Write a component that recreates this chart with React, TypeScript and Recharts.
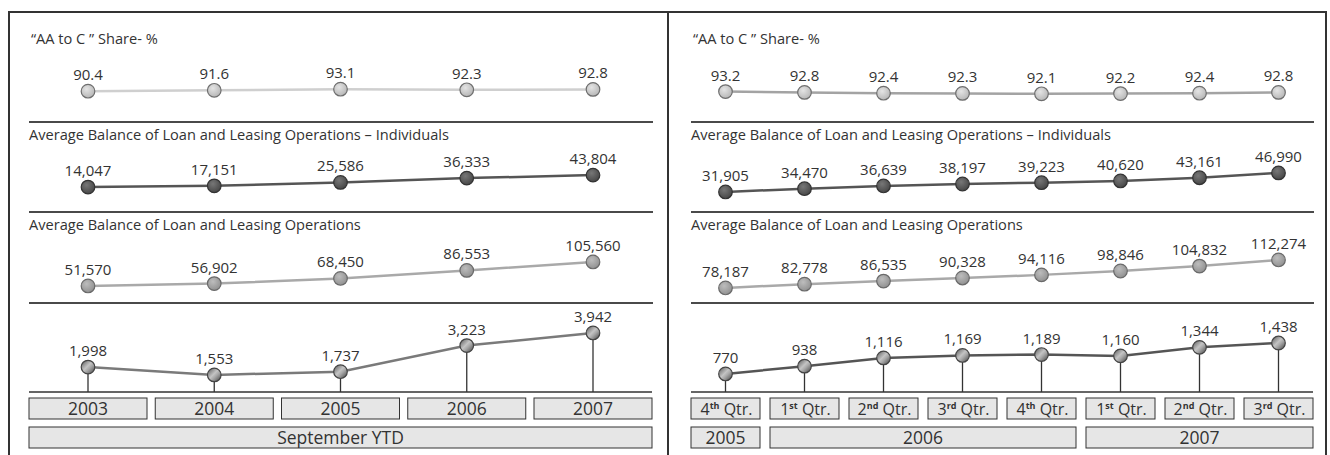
import React from "react";
import { LineChart, Line, XAxis, YAxis, LabelList } from "recharts";

const years = ["2003", "2004", "2005", "2006", "2007"];
const yearGroups = ["September YTD", "September YTD", "September YTD", "September YTD", "September YTD"];
const shareYtd = [90.4, 91.6, 93.1, 92.3, 92.8];
const individualsYtd = [14047, 17151, 25586, 36333, 43804];
const totalYtd = [51570, 56902, 68450, 86553, 105560];
const resultYtd = [1998, 1553, 1737, 3223, 3942];

const quarters = ["4th Qtr.", "1st Qtr.", "2nd Qtr.", "3rd Qtr.", "4th Qtr.", "1st Qtr.", "2nd Qtr.", "3rd Qtr."];
const quarterGroups = ["2005", "2006", "2006", "2006", "2006", "2007", "2007", "2007"];
const shareQtr = [93.2, 92.8, 92.4, 92.3, 92.1, 92.2, 92.4, 92.8];
const individualsQtr = [31905, 34470, 36639, 38197, 39223, 40620, 43161, 46990];
const totalQtr = [78187, 82778, 86535, 90328, 94116, 98846, 104832, 112274];
const resultQtr = [770, 938, 1116, 1169, 1189, 1160, 1344, 1438];

const titles = [
  "\u201CAA to C \u201D Share- %",
  "Average Balance of Loan and Leasing Operations \u2013 Individuals",
  "Average Balance of Loan and Leasing Operations",
];

const FONT = "'Open Sans', 'Noto Sans', sans-serif";
const INK = "#333";
const M = 20;

// row layout: chart div top, top margin, plot height, title top, separator top
const rows = [
  { top: 40, mt: 10, plotH: 60, titleTop: 27, sep: 121 },
  { top: 130, mt: 10, plotH: 60, titleTop: 123, sep: 211 },
  { top: 220, mt: 10, plotH: 70, titleTop: 213, sep: 302 },
  { top: 300, mt: 20, plotH: 72, titleTop: 0, sep: 0 },
];

const styles = [
  { fill: "url(#ballLight)", stroke: "#6e6e6e" },
  { fill: "url(#ballDark)", stroke: "#333" },
  { fill: "url(#ballMid)", stroke: "#6a6a6a" },
  { fill: "url(#ballMetal)", stroke: "#444" },
];

const panels = [
  {
    left: 29, width: 623, box: 118, cats: years, groups: yearGroups,
    series: [shareYtd, individualsYtd, totalYtd, resultYtd],
    domains: [[65, 146], [-18000, 131000], [20000, 177500], [580, 4680]],
    lines: ["#cfcfcf", "#555", "#a9a9a9", "#7a7a7a"],
  },
  {
    left: 691, width: 622, box: 69, cats: quarters, groups: quarterGroups,
    series: [shareQtr, individualsQtr, totalQtr, resultQtr],
    domains: [[84, 114], [25500, 73100], [63500, 148800], [380, 1935]],
    lines: ["#a3a3a3", "#555", "#a9a9a9", "#555"],
  },
];

const fmt = (v: number) =>
  v < 100 ? v.toFixed(1) : v.toLocaleString("en-US");

function QuarterText({ x, y, label }: any) {
  const m = /^(\d)(st|nd|rd|th)(.*)$/.exec(label);
  if (!m) {
    return (
      <text x={x} y={y} textAnchor="middle" fontSize={17.5} fill={INK} fontFamily={FONT}>
        {label}
      </text>
    );
  }
  return (
    <text x={x + 1} y={y} textAnchor="middle" fontSize={16} fill={INK} fontFamily={FONT}>
      <tspan>{m[1]}</tspan>
      <tspan dy={-6} fontSize={9} fontWeight="bold">{m[2]}</tspan>
      <tspan dy={6}>{m[3]}</tspan>
    </text>
  );
}

function BoxTick(props: any) {
  const { x, y, payload, panel } = props;
  const i: number = payload?.index ?? props.index;
  const n = panel.cats.length;
  const w = panel.box;
  const step = (panel.width - w) / (n - 1);
  const grp = panel.groups[i];
  const first = i === 0 || panel.groups[i - 1] !== grp;
  let span = 0;
  while (i + span < n && panel.groups[i + span] === grp) span++;
  const gw = (span - 1) * step + w;
  return (
    <g>
      <rect x={x - w / 2} y={y + 6} width={w} height={21} fill="#e6e6e6" stroke={INK} strokeWidth={1} />
      <QuarterText x={x} y={y + 23} label={panel.cats[i]} />
      {first && (
        <g>
          <rect x={x - w / 2} y={y + 35} width={gw} height={21} fill="#e6e6e6" stroke={INK} strokeWidth={1} />
          <text x={x - w / 2 + gw / 2} y={y + 52} textAnchor="middle" fontSize={grp.length > 4 ? 17.5 : 17.5} fill={INK} fontFamily={FONT}>
            {grp}
          </text>
        </g>
      )}
    </g>
  );
}

function RowChart({ panel, r }: any) {
  const row = rows[r];
  const last = r === 3;
  const values: number[] = panel.series[r];
  const data = panel.cats.map((c: string, i: number) => ({ cat: c, v: values[i] }));
  const axisH = last ? 63 : 0;
  const st = styles[r];
  const bottom = row.mt + row.plotH;
  const renderDot = (p: any) => (
    <g key={`dot-${p.index}`}>
      {last && <line x1={p.cx} y1={p.cy} x2={p.cx} y2={bottom} stroke={INK} strokeWidth={1.3} />}
      <circle cx={p.cx} cy={p.cy} r={6.8} fill={st.fill} stroke={st.stroke} strokeWidth={1.2} />
    </g>
  );
  return (
    <div style={{ position: "absolute", left: panel.left - M, top: row.top }}>
      <LineChart
        width={panel.width + 2 * M}
        height={row.mt + row.plotH + axisH}
        data={data}
        margin={{ top: row.mt, right: M, bottom: 0, left: M }}
      >
        <XAxis
          dataKey="cat"
          hide={!last}
          height={axisH}
          interval={0}
          padding={{ left: panel.box / 2, right: panel.box / 2 }}
          tickLine={false}
          tickSize={0}
          tickMargin={0}
          axisLine={{ stroke: INK, strokeWidth: 1.5 }}
          tick={last ? <BoxTick panel={panel} /> : false}
        />
        <YAxis hide domain={panel.domains[r]} allowDataOverflow />
        <Line
          type="linear"
          dataKey="v"
          stroke={panel.lines[r]}
          strokeWidth={2.5}
          dot={renderDot}
          activeDot={false}
          isAnimationActive={false}
        >
          <LabelList
            dataKey="v"
            position="top"
            offset={11}
            formatter={fmt as any}
            fill={INK}
            fontSize={15}
            fontFamily={FONT}
          />
        </Line>
      </LineChart>
    </div>
  );
}

function Panel({ panel }: any) {
  return (
    <>
      {titles.map((t, i) => (
        <div
          key={`t${i}`}
          style={{
            position: "absolute",
            left: panel.left + (i === 0 ? 2 : 0),
            top: rows[i].titleTop,
            fontSize: 14.6,
            color: INK,
            fontFamily: FONT,
            whiteSpace: "nowrap",
            lineHeight: "22px",
          }}
        >
          {t}
        </div>
      ))}
      {rows.slice(0, 3).map((row, i) => (
        <div
          key={`s${i}`}
          style={{
            position: "absolute",
            left: panel.left,
            top: row.sep,
            width: panel.width + 1,
            height: 2,
            background: "#4a4a4a",
          }}
        />
      ))}
      {[0, 1, 2, 3].map((r) => (
        <RowChart key={`r${r}`} panel={panel} r={r} />
      ))}
    </>
  );
}

export default function App() {
  return (
    <div style={{ position: "absolute", left: 0, top: 0, width: 1330, height: 455, background: "#fff", overflow: "hidden" }}>
      <svg width={0} height={0} style={{ position: "absolute" }}>
        <defs>
          <radialGradient id="ballLight" cx="0.4" cy="0.35" r="0.7">
            <stop offset="0" stopColor="#e4e4e4" />
            <stop offset="1" stopColor="#b4b4b4" />
          </radialGradient>
          <radialGradient id="ballDark" cx="0.4" cy="0.35" r="0.7">
            <stop offset="0" stopColor="#777" />
            <stop offset="1" stopColor="#444" />
          </radialGradient>
          <radialGradient id="ballMid" cx="0.4" cy="0.35" r="0.7">
            <stop offset="0" stopColor="#bdbdbd" />
            <stop offset="1" stopColor="#8e8e8e" />
          </radialGradient>
          <linearGradient id="ballMetal" x1="0" y1="0" x2="1" y2="1">
            <stop offset="0" stopColor="#555" />
            <stop offset="0.45" stopColor="#c4c4c4" />
            <stop offset="0.6" stopColor="#a8a8a8" />
            <stop offset="1" stopColor="#3e3e3e" />
          </linearGradient>
        </defs>
      </svg>
      <div
        style={{
          position: "absolute",
          left: 8,
          top: 11,
          width: 1319,
          height: 460,
          boxSizing: "border-box",
          borderTop: `2px solid ${INK}`,
          borderLeft: `2px solid ${INK}`,
          borderRight: `2px solid ${INK}`,
        }}
      />
      <div style={{ position: "absolute", left: 667, top: 11, width: 2, height: 460, background: INK }} />
      {panels.map((p, i) => (
        <Panel key={`p${i}`} panel={p} />
      ))}
    </div>
  );
}
